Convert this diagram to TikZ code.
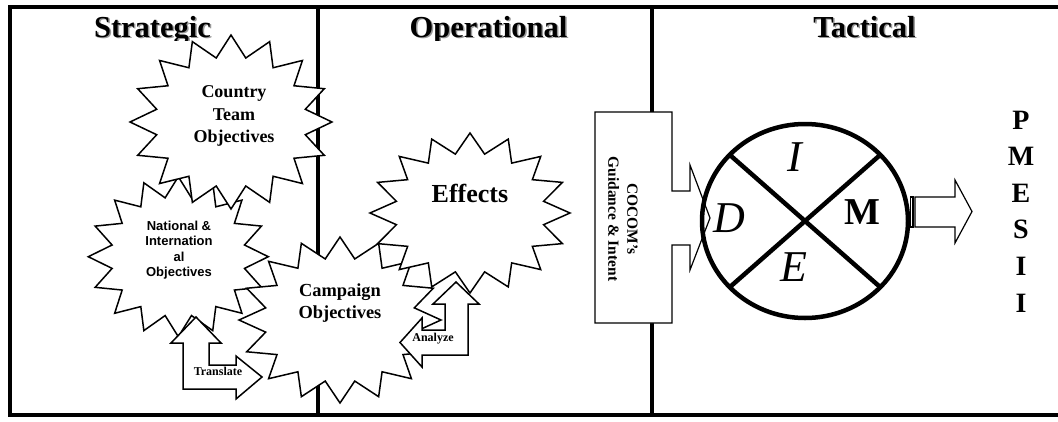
\documentclass[tikz,border=0pt]{standalone}
\usepackage{fontspec}
\setmainfont{Liberation Serif}
\newfontfamily\sansfam{Liberation Sans}

% 16-point starburst: centre (#1,#2), outer radii #3 and #4, inner ratio 0.75
\newcommand\burst[4]{%
  \draw[burst] plot[samples at={0,...,31}, variable=\k]
    ({#1+#3*(1-0.25*mod(\k,2))*cos(90+11.25*\k)},
     {#2-#4*(1-0.25*mod(\k,2))*sin(90+11.25*\k)}) -- cycle;}

\tikzset{
  frame/.style={line width=4.5pt},
  titletext/.style={anchor=base, inner sep=0pt, font=\fontsize{30.5}{34}\selectfont\bfseries},
  titleshadow/.style={titletext, text=black!40},
  burst/.style={draw, fill=white, line width=1.5pt, line join=miter},
  bursttext/.style={align=center, inner sep=0pt},
  blockarrow/.style={draw, fill=white, line width=1.5pt, line join=miter},
  arrowtext/.style={inner sep=0pt, font=\fontsize{12}{14}\selectfont\bfseries},
  callout/.style={draw, fill=white, line width=1.2pt, line join=miter},
  dime/.style={line width=4.5pt},
  dimeletter/.style={inner sep=0pt, font=\fontsize{44}{50}\selectfont\itshape},
  pmesii/.style={inner sep=0pt, font=\fontsize{28}{30}\selectfont\bfseries},
}

\begin{document}
\begin{tikzpicture}[x=1pt,y=-1pt]
\useasboundingbox[fill=white] (0,0) rectangle (1058,421);

% table frame and column dividers
\draw[frame] (1062,7) -- (10,7) -- (10,415) -- (1062,415);
\draw[frame] (318,7) -- (318,415);
\draw[frame] (652,7) -- (652,415);

% column headings with a soft shadow, cut at the heading row
\begin{scope}
  \clip (10,9) rectangle (1058,40);
  \node[titleshadow] (strat-sh) at (154,38.5) {Strategic};
  \node[titletext]   (strat)    at (152.5,37) {Strategic};
  \node[titleshadow] (oper-sh)  at (490,38.5) {Operational};
  \node[titletext]   (oper)     at (488.5,37) {Operational};
  \node[titleshadow] (tact-sh)  at (866,38.5) {Tactical};
  \node[titletext]   (tact)     at (864.5,37) {Tactical};
\end{scope}

% objective starbursts
\burst{178.3}{256.7}{90}{80}
\node[bursttext, font=\sansfam\bfseries\fontsize{13}{15.5}\selectfont]
  (national) at (179,250) {National \&\\Internation\\al\\Objectives};

\burst{231}{122}{101}{87}
\node[bursttext, font=\fontsize{18}{22.5}\selectfont\bfseries]
  (country) at (234,116) {Country\\Team\\Objectives};

\burst{340}{320}{101}{83}
\node[bursttext, font=\fontsize{18.4}{22}\selectfont\bfseries]
  (campaign) at (340,303) {Campaign\\Objectives};

\burst{470}{213}{100}{80}
\node[bursttext, font=\fontsize{26}{30}\selectfont\bfseries]
  (effects) at (470,193) {Effects};

% bent block arrows
\draw[blockarrow] (196,317) -- (221,343) -- (209,343) -- (209,365) -- (236,365)
  -- (236,356) -- (262,377) -- (236,399) -- (236,389) -- (183,389) -- (183,343)
  -- (171,343) -- cycle;
\node[arrowtext] (translate) at (218,371) {Translate};

\draw[blockarrow] (456,282) -- (479,304) -- (468,304) -- (468,355) -- (422,355)
  -- (422,367) -- (400,342.5) -- (422,318) -- (422,330) -- (445,330) -- (445,304)
  -- (433,304) -- cycle;
\node[arrowtext] (analyze) at (433,338.5) {Analyze};

% commander's guidance callout
\draw[callout] (595,112) -- (672,112) -- (672,191) -- (690,191) -- (690,165)
  -- (710,218) -- (690,270) -- (690,245) -- (672,245) -- (672,323) -- (595,323) -- cycle;
\node[rotate=-90, align=center, inner sep=0pt, font=\fontsize{15.5}{19}\selectfont\bfseries]
  (cocom) at (623,219) {COCOM’s\\Guidance \& Intent};

% DIME wheel
\draw[dime] (805,221) ellipse [x radius=103, y radius=97];
\draw[dime] (729.7,154.8) -- (880.3,287.2);
\draw[dime] (729.7,287.2) -- (880.3,154.8);
\node[dimeletter] (dI) at (795,157) {I};
\node[dimeletter] (dD) at (729,218) {D};
\node[dimeletter] (dE) at (794,267) {E};
\node[inner sep=0pt, font=\fontsize{38}{40}\selectfont\bfseries] (dM) at (862,212) {M};

% striped output arrow
\draw[blockarrow, line width=1.2pt] (910.5,197) rectangle (913,227);
\draw[blockarrow, line width=1.2pt] (915,197) -- (955,197) -- (955,180) -- (972,211.5)
  -- (955,243) -- (955,227) -- (915,227) -- cycle;

% PMESII column
\foreach \l [count=\i] in {P,M,E,S,I,I}
  \node[pmesii] (pm\i) at ({1021},{120+36.6*(\i-1)}) {\l};
\end{tikzpicture}
\end{document}
